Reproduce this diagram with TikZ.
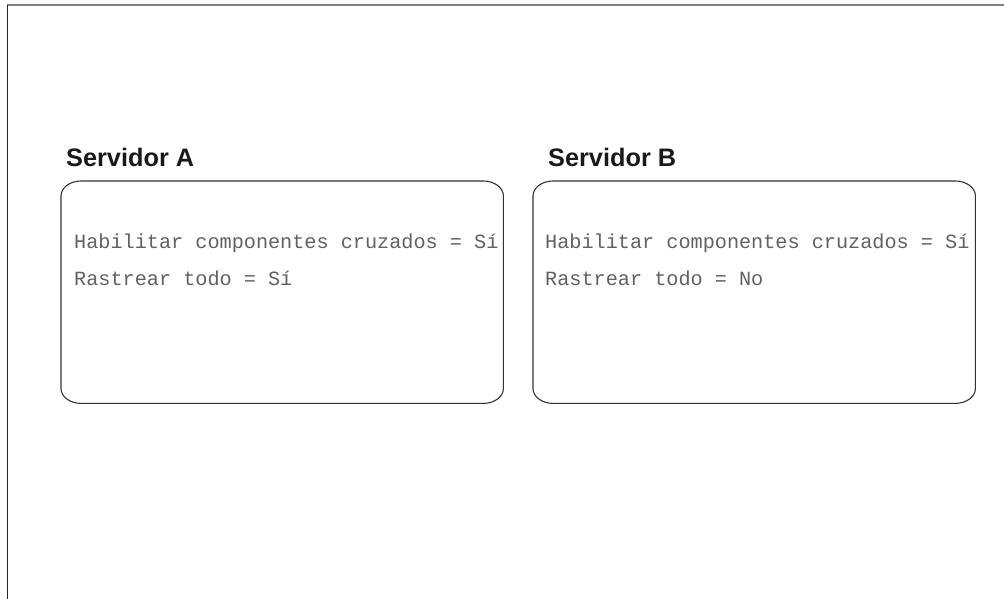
\documentclass[tikz,border=0pt]{standalone}
\usepackage{fontspec}
\setmainfont{Liberation Sans}
\newfontfamily\monofnt{Liberation Mono}
\newfontfamily\headfnt{Liberation Sans}
\begin{document}
\begin{tikzpicture}[x=1pt,y=1pt,
  heading/.style={anchor=base west,inner sep=0pt,font=\headfnt\bfseries\fontsize{25.3}{28}\selectfont,text=black!90},
  monotext/.style={anchor=base west,inner sep=0pt,font=\monofnt\fontsize{20.2}{24}\selectfont,text=black!62},
  serverbox/.style={draw=black!80,line width=1.1pt},
  area/.style={rectangle,inner sep=0pt,minimum width=442pt,minimum height=222pt,anchor=north west}]
\useasboundingbox (0,0) rectangle (1004,-599);
% frame
\draw[black!50,line width=2pt] (7,-5.5) -- (1004,-5.5);
\draw[black!85,line width=1.5pt] (7.5,-5) -- (7.5,-599);
% boxes as named areas
\node[area] (A) at (61,-181) {};
\node[area] (B) at (533,-181) {};
\foreach \n in {A,B}{
  \draw[serverbox] ([xshift=20pt]\n.north west) -- ([xshift=-20pt]\n.north east)
    arc[start angle=90,end angle=0,x radius=20,y radius=15]
    -- ([yshift=15pt]\n.south east)
    arc[start angle=0,end angle=-90,x radius=20,y radius=15]
    -- ([xshift=20pt]\n.south west)
    arc[start angle=270,end angle=180,x radius=20,y radius=15]
    -- ([yshift=-15pt]\n.north west)
    arc[start angle=180,end angle=90,x radius=20,y radius=15] -- cycle;
}
% headings
\node[heading] (hA) at (66,-167) {Servidor A};
\node[heading] (hB) at (548,-167) {Servidor B};
% contents
\node[monotext] (a1) at (74,-248) {Habilitar componentes cruzados = Sí};
\node[monotext] (a2) at (74,-285) {Rastrear todo = Sí};
\node[monotext] (b1) at (545,-248) {Habilitar componentes cruzados = Sí};
\node[monotext] (b2) at (545,-285) {Rastrear todo = No};
\end{tikzpicture}
\end{document}
